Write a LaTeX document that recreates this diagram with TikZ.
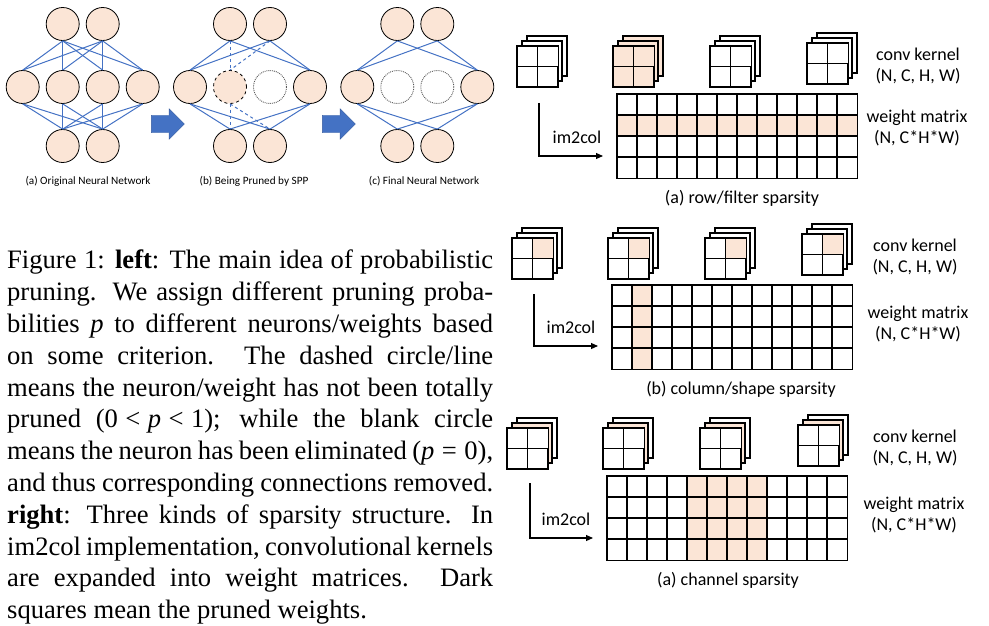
\documentclass[tikz,border=0pt]{standalone}
\usepackage{fontspec}
\setmainfont{Liberation Serif}
\newfontfamily\calfont{Carlito}
\usepackage{xcolor}
\usepackage{tikz}
\usetikzlibrary{arrows.meta,positioning,calc,shapes.arrows}
\definecolor{peach}{HTML}{FBE5D6}
\definecolor{wire}{HTML}{4472C4}
\definecolor{blank}{HTML}{595959}
\tikzset{
  neu/.style={circle, draw=black, line width=0.8pt, fill=peach,
              minimum size=33pt, inner sep=0pt},
  neup/.style={neu, dashed},
  neux/.style={circle, draw=blank, densely dotted, line width=0.9pt,
               fill=white, minimum size=33pt, inner sep=0pt},
  syn/.style={draw=wire, line width=1pt},
  synp/.style={syn, dashed},
  bigar/.style={single arrow, fill=wire, draw=wire!80!black, line width=0.4pt,
                minimum height=33pt, inner xsep=0pt, inner ysep=8.5pt,
                single arrow head extend=6.5pt, single arrow head indent=0pt},
  plbl/.style={font=\calfont\fontsize{11.2}{13}\selectfont, inner sep=0pt},
  kl/.style={draw=black, line width=1.2pt},
  kf/.style={kl, anchor=north west, minimum size=40pt, inner sep=0pt},
  wm/.style={anchor=north west, minimum width=240pt, minimum height=84pt,
             inner sep=0pt, fill=white},
  gl/.style={draw=black, line width=1.2pt},
  imar/.style={-{Triangle[length=7pt,width=6pt]}, line width=1.1pt, draw=black},
  lbl/.style={font=\calfont\fontsize{18}{21.3}\selectfont, align=center,
              inner sep=0pt},
  capt/.style={anchor=north west, text width=486pt, align=justify, inner sep=0pt,
               font=\fontsize{26.6}{31.8}\selectfont},
}
% kernel stack: name, front NW corner, rear fill, middle fill, front fill, top-right cell
\newcommand{\kstack}[6]{%
  \draw[kl, fill=#3] (#2) ++(10,-10) rectangle ++(40,40);
  \draw[kl, fill=#4] (#2) ++(5,-5) rectangle ++(40,40);
  \node[kf, fill=#5] (#1) at (#2) {};
  \fill[#6] (#1.north) rectangle (#1.east);
  \draw[kl] (#1.north) -- (#1.south) (#1.west) -- (#1.east)
            (#1.north west) rectangle (#1.south east);
}
% 12x4 grid over a weight matrix node
\newcommand{\wgrid}[1]{%
  \foreach \ci in {1,...,11}
    \draw[gl] ($(#1.north west)+(\ci*20,0)$) -- ++(0,84);
  \foreach \ri in {1,2,3}
    \draw[gl] ($(#1.north west)+(0,\ri*21)$) -- ++(240,0);
  \draw[gl] (#1.north west) rectangle (#1.south east);
}
\newcommand{\ltp}{\hspace{0.28em}\textless\hspace{0.28em}}

\begin{document}
\begin{tikzpicture}[x=1pt,y=-1pt]
\useasboundingbox (0,0) rectangle (989,626);

% ---- (a) original network ----
\foreach \i/\x in {1/62.7,2/102.7} \node[neu] (at\i) at (\x,24) {};
\foreach \i/\x in {1/22.7,2/62.7,3/102.7,4/142.7} \node[neu] (am\i) at (\x,87) {};
\foreach \i/\x in {1/62.7,2/102.7} \node[neu] (ab\i) at (\x,146) {};
\foreach \t in {1,2} \foreach \m in {1,...,4} {
  \draw[syn] (at\t.south) -- (am\m.north);
  \draw[syn] (am\m.south) -- (ab\t.north);
}
\node[plbl] (la) at (88,181) {(a) Original Neural Network};

\node[bigar] (ar1) at (163.5,124) {};

% ---- (b) being pruned ----
\node[neu] (bt1) at (230,24) {};
\node[neu] (bt2) at (270,24) {};
\node[neu]  (bm1) at (190,87) {};
\node[neup] (bm2) at (230,87) {};
\node[neux] (bm3) at (270,87) {};
\node[neu]  (bm4) at (310,87) {};
\node[neu] (bb1) at (230,146) {};
\node[neu] (bb2) at (270,146) {};
\foreach \t in {1,2} \foreach \m in {1,4} {
  \draw[syn] (bt\t.south) -- (bm\m.north);
  \draw[syn] (bm\m.south) -- (bb\t.north);
}
\foreach \t in {1,2} {
  \draw[synp] (bt\t.south) -- (bm2.north);
  \draw[synp] (bm2.south) -- (bb\t.north);
}
\node[plbl] (lb) at (254,181) {(b) Being Pruned by SPP};

\node[bigar] (ar2) at (334.5,124) {};

% ---- (c) final network ----
\node[neu] (ct1) at (397.3,24) {};
\node[neu] (ct2) at (437.3,24) {};
\node[neu]  (cm1) at (357.3,87) {};
\node[neux] (cm2) at (397.3,87) {};
\node[neux] (cm3) at (437.3,87) {};
\node[neu]  (cm4) at (477.3,87) {};
\node[neu] (cb1) at (397.3,146) {};
\node[neu] (cb2) at (437.3,146) {};
\foreach \t in {1,2} \foreach \m in {1,4} {
  \draw[syn] (ct\t.south) -- (cm\m.north);
  \draw[syn] (cm\m.south) -- (cb\t.north);
}
\node[plbl] (lc) at (424,181) {(c) Final Neural Network};

% ---- caption ----
\node[capt] (fig) at (7,250) {Figure 1: \textbf{left}: The main idea of probabilistic\linebreak
pruning.  We assign different pruning proba-\linebreak
bilities \textit{p} to different neurons/weights based\linebreak
on some criterion.  The dashed circle/line\linebreak
means the neuron/weight has not been totally\linebreak
pruned (0\ltp\textit{p}\ltp1); while the blank circle\linebreak
means the neuron has been eliminated (\textit{p}\hspace{0.28em}=\hspace{0.28em}0),\linebreak
and thus corresponding connections removed.\linebreak
\textbf{right}: Three kinds of sparsity structure.  In\linebreak
im2col implementation, convolutional kernels\linebreak
are expanded into weight matrices.  Dark\linebreak
squares mean the pruned weights.};

% ---- row/filter sparsity ----
\kstack{k11}{517,46}{white}{white}{white}{white}
\kstack{k12}{613,46}{peach}{peach}{peach}{peach}
\kstack{k13}{710,46}{white}{white}{white}{white}
\kstack{k14}{807,43}{white}{white}{white}{white}
\node[wm] (m1) at (617,94) {};
\fill[peach] ($(m1.north west)+(0,21)$) rectangle ++(240,21);
\wgrid{m1}
\coordinate (s1) at (539,103);
\coordinate (e1) at (603,156);
\draw[imar] (s1) |- (e1);
\node[lbl] (ic1) at (577,137) {im2col};
\node[lbl] (ck1) at (918,66) {conv kernel\\(N, C, H, W)};
\node[lbl] (wl1) at (917,128) {weight matrix\\(N, C*H*W)};
\node[lbl] (sp1) at (742,198) {(a) row/filter sparsity};

% ---- column/shape sparsity ----
\kstack{k21}{512,238}{white}{white}{white}{peach}
\kstack{k22}{608,238}{white}{white}{white}{peach}
\kstack{k23}{705,238}{white}{white}{white}{peach}
\kstack{k24}{802,234}{white}{white}{white}{peach}
\node[wm] (m2) at (612,285) {};
\fill[peach] ($(m2.north west)+(20,0)$) rectangle ++(20,84);
\wgrid{m2}
\coordinate (s2) at (534,294);
\coordinate (e2) at (598,346);
\draw[imar] (s2) |- (e2);
\node[lbl] (ic2) at (571,327) {im2col};
\node[lbl] (ck2) at (915,257) {conv kernel\\(N, C, H, W)};
\node[lbl] (wl2) at (918,324) {weight matrix\\(N, C*H*W)};
\node[lbl] (sp2) at (741,389) {(b) column/shape sparsity};

% ---- channel sparsity ----
\kstack{k31}{507,428}{white}{peach}{white}{white}
\kstack{k32}{603,428}{white}{peach}{white}{white}
\kstack{k33}{700,428}{white}{peach}{white}{white}
\kstack{k34}{798,425}{white}{peach}{white}{white}
\node[wm] (m3) at (607,476) {};
\fill[peach] ($(m3.north west)+(80,0)$) rectangle ++(80,84);
\wgrid{m3}
\coordinate (s3) at (530,483);
\coordinate (e3) at (593,538);
\draw[imar] (s3) |- (e3);
\node[lbl] (ic3) at (566,519) {im2col};
\node[lbl] (ck3) at (915,448) {conv kernel\\(N, C, H, W)};
\node[lbl] (wl3) at (914,515) {weight matrix\\(N, C*H*W)};
\node[lbl] (sp3) at (728,580) {(a) channel sparsity};

\end{tikzpicture}
\end{document}
